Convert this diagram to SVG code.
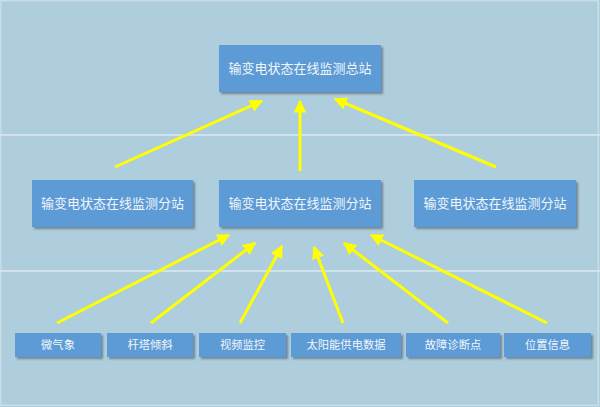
<svg xmlns="http://www.w3.org/2000/svg" width="600" height="407" viewBox="0 0 600 407">
<defs>
<style>
.box{fill:#5b9bd5;filter:url(#sh)}
.t{font-family:"Liberation Sans","Noto Sans CJK SC",sans-serif;fill:#f2f6fb;text-anchor:middle;dominant-baseline:central}
.big{font-size:13px}
.small{font-size:11.3px}
.c{stroke:#ffff00;stroke-width:3;fill:none;marker-end:url(#ah)}
.sep{stroke:#dbe8f0;stroke-width:1.5}
</style>
<filter id="sh" x="-10%" y="-20%" width="130%" height="150%">
<feDropShadow dx="2" dy="2" stdDeviation="1" flood-color="#3a4a5a" flood-opacity="0.55"/>
</filter>
<marker id="ah" viewBox="0 0 10 10" refX="9" refY="5" markerWidth="4.3" markerHeight="4.3" orient="auto" markerUnits="strokeWidth">
<path d="M0,0 L10,5 L0,10 z" fill="#ffff00"/>
</marker>
</defs>
<rect x="0" y="0" width="600" height="407" fill="#aecddd"/>
<rect x="0.75" y="0.75" width="597.5" height="404.5" fill="none" stroke="#c9dde8" stroke-width="1.5"/>
<line class="sep" x1="0" y1="135" x2="600" y2="135"/>
<line class="sep" x1="0" y1="271" x2="600" y2="271"/>
<g id="connectors">
<line class="c" x1="115" y1="167" x2="262" y2="101"/>
<line class="c" x1="300" y1="171" x2="300" y2="101"/>
<line class="c" x1="496" y1="167" x2="335" y2="99"/>
<line class="c" x1="57" y1="323" x2="229" y2="235"/>
<line class="c" x1="151" y1="323" x2="255" y2="243"/>
<line class="c" x1="240" y1="323" x2="282" y2="246"/>
<line class="c" x1="343" y1="323" x2="314" y2="247"/>
<line class="c" x1="448" y1="323" x2="344" y2="243"/>
<line class="c" x1="547" y1="323" x2="371" y2="235"/>
</g>
<g id="top"><rect class="box" x="219" y="45" width="162" height="47"/><text class="t big" x="300" y="68.5">输变电状态在线监测总站</text></g>
<g id="sub-left"><rect class="box" x="32" y="180" width="161" height="47"/><text class="t big" x="112.5" y="203.5">输变电状态在线监测分站</text></g>
<g id="sub-center"><rect class="box" x="219" y="180" width="162" height="47"/><text class="t big" x="300" y="203.5">输变电状态在线监测分站</text></g>
<g id="sub-right"><rect class="box" x="414" y="180" width="162" height="47"/><text class="t big" x="495" y="203.5">输变电状态在线监测分站</text></g>
<g id="n1"><rect class="box" x="15" y="333" width="86" height="24"/><text class="t small" x="58" y="345">微气象</text></g>
<g id="n2"><rect class="box" x="107" y="333" width="86" height="24"/><text class="t small" x="150" y="345">杆塔倾斜</text></g>
<g id="n3"><rect class="box" x="199" y="333" width="87" height="24"/><text class="t small" x="242.5" y="345">视频监控</text></g>
<g id="n4"><rect class="box" x="291" y="333" width="110" height="24"/><text class="t small" x="346" y="345">太阳能供电数据</text></g>
<g id="n5"><rect class="box" x="406" y="333" width="94" height="24"/><text class="t small" x="453" y="345">故障诊断点</text></g>
<g id="n6"><rect class="box" x="504" y="333" width="87" height="24"/><text class="t small" x="547.5" y="345">位置信息</text></g>
</svg>
